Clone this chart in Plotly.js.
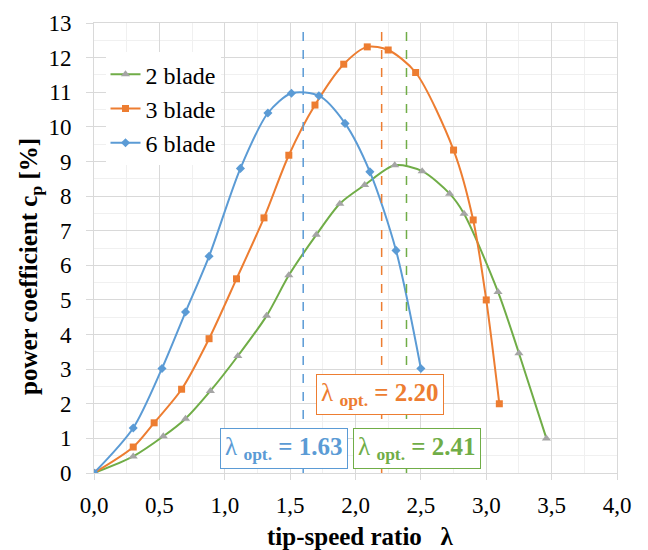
<!DOCTYPE html>
<html><head><meta charset="utf-8">
<script src="https://cdn.plot.ly/plotly-3.0.1.min.js"></script>
<style>html,body{margin:0;padding:0;background:#fff}#chart{width:648px;height:550px}</style>
</head><body><div id="chart"></div>
<script>
// ---- data ----
const x2 = [0, 0.30, 0.53, 0.70, 0.89, 1.10, 1.32, 1.49, 1.70, 1.88, 2.07, 2.30, 2.51, 2.72, 2.83, 3.09, 3.25, 3.46];
const y2 = [0, 0.48, 1.06, 1.57, 2.37, 3.38, 4.54, 5.71, 6.88, 7.78, 8.32, 8.89, 8.72, 8.07, 7.49, 5.23, 3.46, 1.0];
const x3 = [0, 0.30, 0.46, 0.67, 0.88, 1.09, 1.30, 1.49, 1.69, 1.91, 2.09, 2.25, 2.46, 2.75, 2.90, 3.00, 3.10];
const y3 = [0, 0.75, 1.45, 2.42, 3.88, 5.61, 7.37, 9.18, 10.63, 11.81, 12.31, 12.22, 11.57, 9.33, 7.31, 5.0, 2.0];
const x6 = [0, 0.30, 0.52, 0.70, 0.88, 1.12, 1.33, 1.51, 1.72, 1.92, 2.11, 2.31, 2.50];
const y6 = [0, 1.30, 3.02, 4.65, 6.26, 8.80, 10.40, 10.97, 10.90, 10.10, 8.70, 6.43, 3.02];
const seriesNames = ['2 blade', '3 blade', '6 blade'];
const optLines = [1.6, 2.2, 2.39];
const optLabels = ['1.63', '2.20', '2.41'];
const optLabelPos = [[1.45, 0.72], [2.19, 2.26], [2.47, 0.72]];
const colors = ['#5b9bd5', '#ed7d31', '#70ad47'];
const xTitle = '<b>tip-speed ratio   λ</b>';
const yTitle = '<b>power coefficient c<sub>p</sub> [%]</b>';

const font = 'Times New Roman';
const fontBold = 'Liberation Serif';

const traces = [
  {x: x2, y: y2, name: seriesNames[0], mode: 'lines+markers',
   line: {color: '#70ad47', width: 2, shape: 'spline', smoothing: 0.8},
   marker: {symbol: 'triangle-up', size: 8, color: '#a5a5a5'}},
  {x: x3, y: y3, name: seriesNames[1], mode: 'lines+markers',
   line: {color: '#ed7d31', width: 2, shape: 'spline', smoothing: 0.8},
   marker: {symbol: 'square', size: 7, color: '#ed7d31'}},
  {x: x6, y: y6, name: seriesNames[2], mode: 'lines+markers',
   line: {color: '#5b9bd5', width: 2, shape: 'spline', smoothing: 0.8},
   marker: {symbol: 'diamond', size: 7, color: '#5b9bd5'}}
];

const shapes = optLines.map((v, i) => ({
  type: 'line', xref: 'x', yref: 'y', x0: v, x1: v, y0: 0, y1: 13,
  line: {color: colors[i], width: 1.5, dash: 'dash'}, layer: 'above'
}));

const annotations = optLabels.map((t, i) => ({
  x: optLabelPos[i][0], y: optLabelPos[i][1], xref: 'x', yref: 'y',
  text: 'λ <sub><b>opt.</b></sub><b> = ' + t + '</b>', showarrow: false,
  font: {family: font, size: 25, color: colors[i]},
  bordercolor: colors[i], borderwidth: 1, borderpad: 4, bgcolor: '#ffffff'
}));
annotations.push({
  x: 0.509, y: -0.1416, xref: 'paper', yref: 'paper', xanchor: 'center', yanchor: 'middle',
  text: xTitle, showarrow: false, font: {family: fontBold, size: 25, color: '#000'}
});
annotations.push({
  x: -0.1224, y: 0.46, xref: 'paper', yref: 'paper', xanchor: 'center', yanchor: 'middle',
  text: yTitle, textangle: -90, showarrow: false, font: {family: fontBold, size: 25, color: '#000'}
});

const layout = {
  width: 648, height: 550,
  margin: {l: 94, r: 31, t: 23, b: 77},
  paper_bgcolor: '#ffffff', plot_bgcolor: '#ffffff',
  separators: ',.',
  font: {family: font, size: 23, color: '#000'},
  showlegend: true,
  legend: {x: 0.022, y: 0.935, xanchor: 'left', yanchor: 'top', bgcolor: '#ffffff',
           font: {family: font, size: 24, color: '#000'}, tracegroupgap: 0, itemwidth: 30},
  xaxis: {range: [0, 4], dtick: 0.5, tick0: 0, tickformat: '.1f',
          showgrid: true, gridcolor: '#d9d9d9', gridwidth: 1,
          minor: {dtick: 0.25, showgrid: true, gridcolor: '#f0f0f0'},
          showline: true, linecolor: '#d9d9d9', mirror: true,
          ticks: 'outside', ticklen: 6, tickcolor: '#d9d9d9', zeroline: false,
          ticklabelstandoff: 5,
          tickfont: {family: font, size: 23, color: '#000'}},
  yaxis: {range: [0, 13], dtick: 1, tick0: 0,
          showgrid: true, gridcolor: '#d9d9d9', gridwidth: 1,
          minor: {dtick: 0.5, showgrid: true, gridcolor: '#f0f0f0'},
          showline: true, linecolor: '#d9d9d9', mirror: true,
          ticks: 'outside', ticklen: 7, tickcolor: '#d9d9d9', zeroline: false,
          ticklabelstandoff: 10,
          tickfont: {family: font, size: 23, color: '#000'}},
  shapes: shapes,
  annotations: annotations
};

Plotly.newPlot('chart', traces, layout, {displayModeBar: false, staticPlot: true});
</script></body></html>
